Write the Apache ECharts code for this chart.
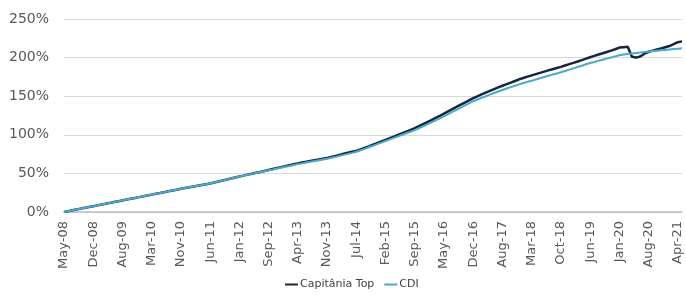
<!DOCTYPE html>
<html>
<head>
<meta charset="utf-8">
<script src="https://cdn.jsdelivr.net/npm/echarts@6/dist/echarts.min.js"></script>
<style>
html,body{margin:0;padding:0;background:#fff;}
#chart{width:686px;height:295px;}
</style>
</head>
<body>
<div id="chart"></div>
<script>
// Tick labels shown on the x axis (one every 7 data points)
var tickLabels = ['May-08','Dec-08','Aug-09','Mar-10','Nov-10','Jun-11','Jan-12','Sep-12','Apr-13','Nov-13',
  'Jul-14','Feb-15','Sep-15','May-16','Dec-16','Aug-17','Mar-18','Oct-18','Jun-19','Jan-20','Aug-20','Apr-21'];
var pointsPerTick = 7;

var seriesNames = ['Capitânia Top', 'CDI'];

// Cumulative return (%) — CDI
var cdi = [
  0, 1.1, 2.2, 3.3, 4.4, 5.4, 6.5,
  7.5, 8.6, 9.6, 10.7, 11.8, 12.9, 13.9,
  15, 16.1, 17.2, 18.2, 19.3, 20.4, 21.4,
  22.5, 23.6, 24.6, 25.7, 26.8, 27.9, 28.9,
  30, 31, 32, 33, 34, 35, 36,
  37, 38.3, 39.6, 40.9, 42.1, 43.4, 44.7,
  46, 47.1, 48.3, 49.4, 50.6, 51.7, 52.9,
  54, 55.1, 56.3, 57.4, 58.6, 59.7, 60.9,
  62, 63, 64, 65, 66, 67, 68,
  69, 70.2, 71.4, 72.7, 74, 75.3, 76.6,
  78, 79.9, 81.8, 83.8, 85.8, 87.9, 89.9,
  92, 94, 96, 98, 100, 102, 104,
  106, 108.5, 111, 113.5, 116.1, 118.7, 121.3,
  124, 126.8, 129.6, 132.4, 135.2, 138, 140.7,
  143.5, 145.7, 147.9, 150, 152.1, 154.1, 156.1,
  158, 159.9, 161.8, 163.6, 165.3, 167, 168.6,
  170, 171.6, 173.2, 174.8, 176.4, 178, 179.5,
  181, 182.7, 184.4, 186.1, 187.8, 189.5, 191.3,
  193, 194.4, 195.9, 197.3, 198.7, 200.1, 201.6,
  203, 203.9, 204.6, 205.3, 206, 206.6, 207.3,
  208, 208.5, 209, 209.5, 210, 210.5, 211,
  211.5, 212
];

// Cumulative return (%) — Capitânia Top
var capitania = [
  0, 1.1, 2.2, 3.3, 4.4, 5.4, 6.5,
  7.5, 8.6, 9.6, 10.7, 11.8, 12.9, 13.9,
  15, 16.1, 17.2, 18.2, 19.3, 20.4, 21.4,
  22.5, 23.6, 24.6, 25.7, 26.8, 27.9, 28.9,
  30, 31, 32, 33, 34, 35, 36,
  37, 38.3, 39.6, 40.9, 42.1, 43.4, 44.7,
  46, 47.1, 48.4, 49.5, 50.8, 51.9, 53.2,
  54.5, 55.7, 56.9, 58.1, 59.4, 60.6, 61.8,
  63, 64, 65, 66.1, 67.1, 68.1, 69.1,
  70, 71.3, 72.6, 74, 75.4, 76.8, 78.1,
  79, 81, 83, 85, 87.1, 89.2, 91.3,
  93.5, 95.6, 97.7, 99.9, 102, 104.2, 106.3,
  108.5, 111.1, 113.8, 116.4, 119.1, 121.9, 124.6,
  127.5, 130.4, 133.2, 136.1, 139, 141.8, 144.6,
  147.5, 149.9, 152.3, 154.6, 156.9, 159.2, 161.4,
  163.5, 165.6, 167.6, 169.7, 171.9, 173.6, 175.4,
  177, 178.6, 180.2, 181.8, 183.4, 185, 186.5,
  188, 189.8, 191.5, 193.2, 195, 196.8, 198.7,
  200.5, 202.2, 204, 205.6, 207.3, 209, 210.8,
  213, 213.5, 214, 201, 200, 201.5, 205,
  207.5, 209, 210.5, 212, 213.5, 215, 217.5,
  220, 221
];

var yMin = 0, yMax = 250, yStep = 50;

var categories = [];
for (var i = 0; i < cdi.length; i++) {
  categories.push(i % pointsPerTick === 0 && tickLabels[i / pointsPerTick] ? tickLabels[i / pointsPerTick] : '');
}

var FONT = 'DejaVu Sans';
var chart = echarts.init(document.getElementById('chart'), null, {renderer: 'canvas'});
chart.setOption({
  animation: false,
  backgroundColor: '#ffffff',
  grid: {left: 64, right: 4, top: 19, bottom: 83, containLabel: false},
  legend: {
    data: seriesNames,
    top: 279,
    left: 285,
    padding: 0,
    icon: 'rect',
    itemWidth: 13,
    itemHeight: 2,
    itemGap: 10,
    textStyle: {fontFamily: FONT, fontSize: 11, color: '#404040', padding: [0, 0, 0, -3]}
  },
  xAxis: {
    type: 'category',
    data: categories,
    boundaryGap: false,
    axisLine: {show: true, lineStyle: {color: '#bfbfbf', width: 1.5}},
    axisTick: {show: false},
    splitLine: {show: false},
    axisLabel: {
      interval: pointsPerTick - 1,
      rotate: 90,
      margin: 9,
      fontFamily: FONT,
      fontSize: 13,
      color: '#595959'
    }
  },
  yAxis: {
    type: 'value',
    min: yMin, max: yMax, interval: yStep,
    axisLine: {show: false},
    axisTick: {show: false},
    splitLine: {show: true, lineStyle: {color: '#d9d9d9', width: 1}},
    axisLabel: {
      formatter: '{value}%',
      margin: 15,
      fontFamily: FONT,
      fontSize: 14,
      color: '#595959'
    }
  },
  series: [
    {
      name: seriesNames[0], type: 'line', data: capitania, showSymbol: false, symbol: 'none',
      lineStyle: {color: '#172540', width: 2.5}, itemStyle: {color: '#172540'}
    },
    {
      name: seriesNames[1], type: 'line', data: cdi, showSymbol: false, symbol: 'none',
      lineStyle: {color: '#4aabc8', width: 2}, itemStyle: {color: '#4aabc8'}
    }
  ]
});
</script>
</body>
</html>
